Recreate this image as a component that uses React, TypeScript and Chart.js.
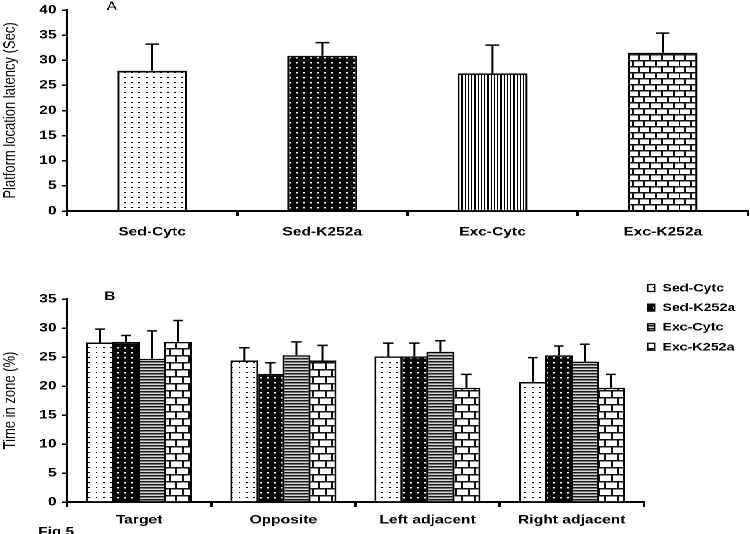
import React, { useEffect, useRef } from "react";
import { Chart, registerables } from "chart.js";
Chart.register(...registerables);

// ---------- data ----------
const groupLabels = ["Sed-Cytc", "Sed-K252a", "Exc-Cytc", "Exc-K252a"];
const latencyMeans = [27.9, 30.9, 27.4, 31.5];
const latencyErrors = [5.3, 2.6, 5.6, 3.9];
const latencyMax = 40;
const latencyStep = 5;

const zoneLabels = ["Target", "Opposite", "Left adjacent", "Right adjacent"];
const sedCytcZone = [27.5, 24.4, 25.1, 20.7];
const sedCytcZoneErr = [2.3, 2.2, 2.3, 4.2];
const sedK252aZone = [27.6, 22.1, 25.1, 25.3];
const sedK252aZoneErr = [1.1, 1.9, 2.3, 1.6];
const excCytcZone = [24.7, 25.3, 25.9, 24.2];
const excCytcZoneErr = [4.8, 2.3, 1.9, 3.0];
const excK252aZone = [27.6, 24.4, 19.7, 19.7];
const excK252aZoneErr = [3.7, 2.6, 2.3, 2.3];
const zoneMax = 35;
const zoneStep = 5;

const titleA = "Platform location latency (Sec)";
const titleB = "Time in zone (%)";

// ---------- styling ----------
const FONT = "'Liberation Sans', Arial, Helvetica, sans-serif";
const W = 577;
const SX = 750 / W;
const R = 2;

function tile(w: number, h: number, draw: (g: CanvasRenderingContext2D) => void): CanvasPattern {
  const c = document.createElement("canvas");
  c.width = w;
  c.height = h;
  const g = c.getContext("2d")!;
  draw(g);
  const p = document.createElement("canvas").getContext("2d")!.createPattern(c, "repeat")!;
  p.setTransform(new DOMMatrix().scale(1 / R));
  return p;
}

function dotsLight() {
  return tile(11, 10, (g) => {
    g.fillStyle = "#fff";
    g.fillRect(0, 0, 11, 10);
    g.fillStyle = "#000";
    g.fillRect(4, 4, 3, 2);
  });
}
function dotsDark() {
  return tile(11, 10, (g) => {
    g.fillStyle = "#000";
    g.fillRect(0, 0, 11, 10);
    g.fillStyle = "#fff";
    g.fillRect(4, 4, 3, 3);
  });
}
function vStripes() {
  return tile(5, 2, (g) => {
    g.fillStyle = "#fff";
    g.fillRect(0, 0, 5, 2);
    g.fillStyle = "#000";
    g.fillRect(0, 0, 2, 2);
  });
}
function hStripes() {
  return tile(2, 6, (g) => {
    g.fillStyle = "#d6d6d6";
    g.fillRect(0, 0, 2, 6);
    g.fillStyle = "#1a1a1a";
    g.fillRect(0, 0, 2, 3);
  });
}
function bricks(wCss: number, rowCss: number) {
  const bw = wCss * R;
  const bh = rowCss * R * 2;
  return tile(bw, bh, (g) => {
    g.fillStyle = "#fff";
    g.fillRect(0, 0, bw, bh);
    g.fillStyle = "#111";
    const t = 3;
    g.fillRect(0, 0, bw, t);
    g.fillRect(0, bh / 2, bw, t);
    g.fillRect(0, 0, t, bh / 2);
    g.fillRect(bw / 2, bh / 2, t, bh / 2);
  });
}

const errorBarPlugin = {
  id: "errbars",
  afterDatasetsDraw(chart: any, _args: any, opts: any) {
    const ctx = chart.ctx;
    const yScale = chart.scales.y;
    chart.data.datasets.forEach((ds: any, di: number) => {
      const meta = chart.getDatasetMeta(di);
      meta.data.forEach((bar: any, i: number) => {
        const v = ds.data[i];
        const e = ds.errorValues[i];
        const yTop = yScale.getPixelForValue(v + e);
        const yBar = yScale.getPixelForValue(v);
        ctx.save();
        ctx.strokeStyle = "#000";
        ctx.lineWidth = 1.5;
        ctx.beginPath();
        ctx.moveTo(bar.x, yBar);
        ctx.lineTo(bar.x, yTop);
        ctx.moveTo(bar.x - opts.capHalf, yTop);
        ctx.lineTo(bar.x + opts.capHalf, yTop);
        ctx.stroke();
        ctx.restore();
      });
    });
  },
};

const textPlugin = {
  id: "texts",
  afterDraw(chart: any, _args: any, opts: any) {
    const ctx = chart.ctx;
    (opts.items || []).forEach((it: any) => {
      ctx.save();
      ctx.fillStyle = "#000";
      ctx.font = it.font;
      ctx.textAlign = it.align || "left";
      ctx.textBaseline = it.baseline || "alphabetic";
      ctx.fillText(it.text, it.x, it.y);
      ctx.restore();
    });
    if (opts.legend) {
      const L = opts.legend;
      chart.data.datasets.forEach((ds: any, i: number) => {
        const cy = L.y0 + i * L.dy;
        ctx.save();
        ctx.fillStyle = ds.legendFill;
        ctx.fillRect(L.x, cy - L.h / 2, L.w, L.h);
        ctx.strokeStyle = "#000";
        ctx.lineWidth = 1.2;
        ctx.strokeRect(L.x, cy - L.h / 2, L.w, L.h);
        ctx.fillStyle = "#000";
        ctx.font = L.font;
        ctx.textBaseline = "middle";
        ctx.textAlign = "left";
        ctx.fillText(ds.label, L.tx, cy + 0.5);
        ctx.restore();
      });
    }
  },
};

function axisY(max: number, step: number, title: string, width: number) {
  return {
    min: 0,
    max,
    ticks: {
      stepSize: step,
      color: "#000",
      padding: 4,
      font: { family: FONT, size: 12, weight: "bold", lineHeight: 1 },
    },
    grid: {
      drawOnChartArea: false,
      drawTicks: true,
      tickLength: 4,
      color: "#000",
      lineWidth: 1.5,
    },
    border: { display: true, color: "#000", width: 2 },
    title: {
      display: true,
      text: title,
      color: "#000",
      padding: { top: 0, bottom: 0 },
      font: { family: FONT, size: 13, weight: "normal" },
    },
    afterFit: (s: any) => {
      s.width = width;
    },
  };
}

function axisX(height: number, pad: number) {
  return {
    grid: {
      drawOnChartArea: false,
      drawTicks: true,
      tickLength: 5,
      color: "#000",
      lineWidth: 2,
      offset: true,
    },
    border: { display: true, color: "#000", width: 2 },
    ticks: {
      color: "#000",
      padding: pad,
      maxRotation: 0,
      autoSkip: false,
      font: { family: FONT, size: 12, weight: "bold" },
    },
    afterFit: (s: any) => {
      s.height = height;
    },
  };
}

export default function App() {
  const topRef = useRef<HTMLCanvasElement>(null);
  const botRef = useRef<HTMLCanvasElement>(null);

  useEffect(() => {
    document.body.style.margin = "0";
    document.body.style.overflow = "hidden";

    const topFills = [dotsLight(), dotsDark(), vStripes(), bricks(9, 6)];
    const c1 = new Chart(topRef.current!, {
      type: "bar",
      data: {
        labels: groupLabels,
        datasets: [
          {
            data: latencyMeans,
            errorValues: latencyErrors,
            backgroundColor: topFills,
            borderColor: "#000",
            borderWidth: 1.7,
            barPercentage: 0.41,
            categoryPercentage: 1,
          } as any,
        ],
      },
      options: {
        responsive: false,
        animation: false,
        devicePixelRatio: 2,
        layout: { padding: { top: 6, right: 1.6, bottom: 0, left: 0 } },
        plugins: {
          legend: { display: false },
          tooltip: { enabled: false },
          errbars: { capHalf: 5.2 },
          texts: {
            items: [{ text: "A", x: 86, y: 10, font: `12px ${FONT}`, align: "center" }],
          },
        } as any,
        scales: {
          x: axisX(39, 9) as any,
          y: axisY(latencyMax, latencyStep, titleA, 51.5) as any,
        },
      },
      plugins: [errorBarPlugin, textPlugin],
    });

    const sedCytcFill = dotsLight();
    const sedK252aFill = dotsDark();
    const excCytcFill = hStripes();
    const excK252aFill = bricks(10, 7);
    const mk = (label: string, data: number[], err: number[], fill: CanvasPattern) => ({
      label,
      data,
      errorValues: err,
      backgroundColor: fill,
      legendFill: fill,
      borderColor: "#000",
      borderWidth: 1.5,
      barPercentage: 1.07,
      categoryPercentage: 0.722,
    });
    const c2 = new Chart(botRef.current!, {
      type: "bar",
      data: {
        labels: zoneLabels,
        datasets: [
          mk(groupLabels[0], sedCytcZone, sedCytcZoneErr, sedCytcFill),
          mk(groupLabels[1], sedK252aZone, sedK252aZoneErr, sedK252aFill),
          mk(groupLabels[2], excCytcZone, excCytcZoneErr, excCytcFill),
          mk(groupLabels[3], excK252aZone, excK252aZoneErr, excK252aFill),
        ] as any,
      },
      options: {
        responsive: false,
        animation: false,
        devicePixelRatio: 2,
        layout: { padding: { top: 49, right: 81.6, bottom: 0, left: 0 } },
        plugins: {
          legend: { display: false },
          tooltip: { enabled: false },
          errbars: { capHalf: 3.9 },
          texts: {
            items: [
              { text: "B", x: 84.6, y: 50, font: `bold 12px ${FONT}`, align: "center" },
              { text: "Fig 5", x: 29.2, y: 285.6, font: `bold 12px ${FONT}`, align: "left" },
            ],
            legend: { x: 498.2, w: 5.4, h: 7, y0: 38, dy: 19.6, tx: 509.5, font: `bold 11px ${FONT}` },
          },
        } as any,
        scales: {
          x: axisX(32, 6) as any,
          y: axisY(zoneMax, zoneStep, titleB, 51.5) as any,
        },
      },
      plugins: [errorBarPlugin, textPlugin],
    });

    return () => {
      c1.destroy();
      c2.destroy();
    };
  }, []);

  return (
    <div
      style={{
        position: "absolute",
        left: 0,
        top: 0,
        width: W,
        height: 534,
        overflow: "hidden",
        background: "#fff",
        transform: `scaleX(${SX})`,
        transformOrigin: "0 0",
      }}
    >
      <canvas ref={topRef} width={W} height={250} style={{ position: "absolute", left: 0, top: 0 }} />
      <canvas ref={botRef} width={W} height={284} style={{ position: "absolute", left: 0, top: 250 }} />
    </div>
  );
}
